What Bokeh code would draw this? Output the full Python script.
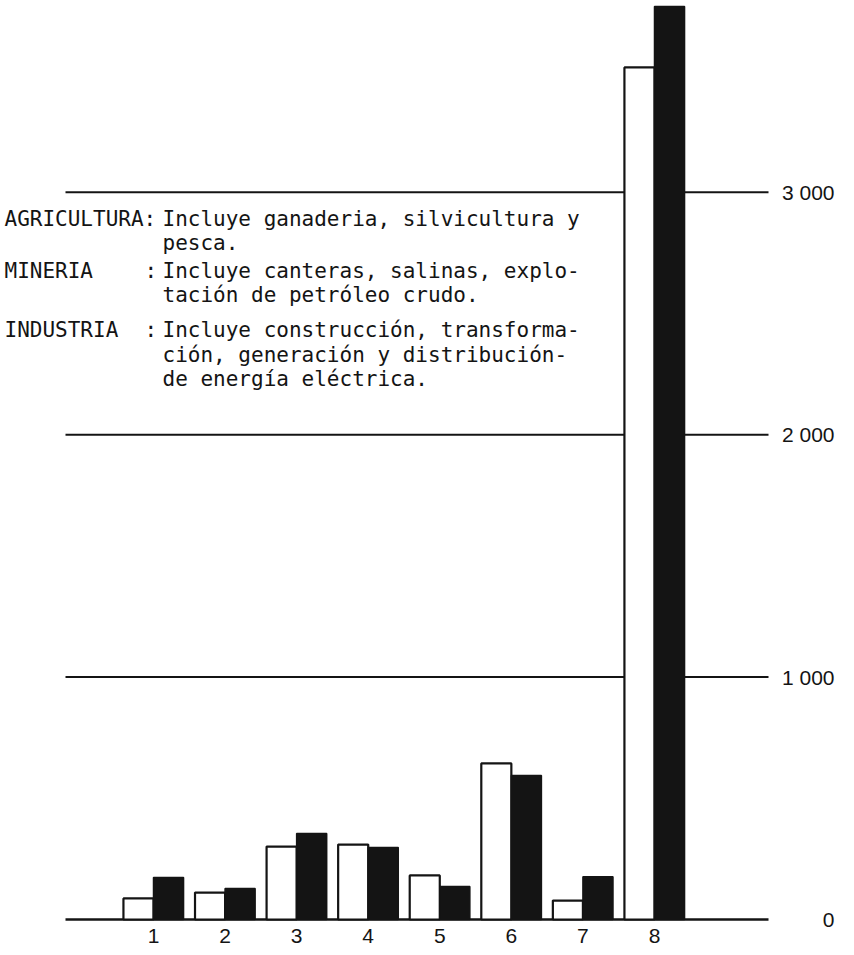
from bokeh.plotting import figure
from bokeh.models import Range1d, Label, ColumnDataSource
from bokeh.core.properties import value
from bokeh.embed import file_html
from bokeh.resources import INLINE

# ---------------- data ----------------
categories = ["1", "2", "3", "4", "5", "6", "7", "8"]
positions = [1, 2, 3, 4, 5, 6, 7, 8]
serie_blanca = [87, 111, 301, 309, 182, 644, 78, 3515]
serie_negra = [173, 128, 355, 297, 136, 594, 176, 3766]
grid_values = [0, 1000, 2000, 3000]
grid_labels = ["0", "1 000", "2 000", "3 000"]

nota_sectores = ["AGRICULTURA:", "MINERIA", "INDUSTRIA"]
nota_textos = [
    ["Incluye ganaderia, silvicultura y", "pesca."],
    ["Incluye canteras, salinas, explo-", "tación de petróleo crudo."],
    ["Incluye construcción, transforma-", "ción, generación y distribución-",
     "de energía eléctrica."],
]

# ---------------- layout ----------------
W, H = 838, 945
PX_UNIT = 71.57          # pixels between group centres
X0_PX = 153              # pixel of group 1 centre inside figure
PX_PER_VAL = 0.2424      # pixels per unit of value
BASE_PX = 919            # pixel row of zero (from top)

x_start = 1 - X0_PX / PX_UNIT
x_end = 1 + (W - X0_PX) / PX_UNIT
y_end = BASE_PX / PX_PER_VAL
y_start = -(H - BASE_PX) / PX_PER_VAL

def xu(px):
    return 1 + (px - X0_PX) / PX_UNIT

def yv(px):
    return (BASE_PX - px) / PX_PER_VAL

p = figure(width=W, height=H, output_backend="svg", toolbar_location=None,
           x_range=Range1d(x_start, x_end), y_range=Range1d(y_start, y_end),
           x_axis_type=None, y_axis_type=None, min_border=0)
p.outline_line_color = None
p.grid.visible = False
p.background_fill_color = "white"
p.border_fill_color = "white"

INK = "#141414"

# grid lines (drawn first, bars cover them)
grid_src = ColumnDataSource(dict(
    x0=[xu(65)] * len(grid_values),
    x1=[xu(768)] * len(grid_values),
    y=grid_values,
    w=[2.6, 2.0, 2.0, 2.0],
))
p.segment(x0="x0", x1="x1", y0="y", y1="y", source=grid_src,
          line_color=INK, line_width="w")

bw = 0.42
xs_w = [c - bw / 2 for c in positions]
xs_b = [c + bw / 2 for c in positions]
p.vbar(x=xs_w, width=bw, bottom=0, top=serie_blanca,
       fill_color="white", line_color=INK, line_width=2.2)
p.vbar(x=xs_b, width=bw, bottom=0, top=serie_negra,
       fill_color=INK, line_color=INK, line_width=1.5)

# category labels
p.text(x=positions, y=[yv(935)] * len(positions), text=categories,
       text_align="center", text_baseline="middle",
       text_font=value("Liberation Sans"), text_font_size="21px",
       text_color=INK)

# value labels on the right
p.text(x=[xu(834)] * len(grid_values), y=grid_values, text=grid_labels,
       text_align="right", text_baseline="middle",
       text_font=value("Liberation Sans"), text_font_size="21px",
       text_color=INK)

# notes block
line_rows = [[218, 242], [270, 294], [329, 354, 378]]
FONT = "DejaVu Sans Mono"
FS = "21px"
for i, sector in enumerate(nota_sectores):
    rows = line_rows[i]
    p.add_layout(Label(x=4, y=H - rows[0], x_units="screen", y_units="screen",
                       text=sector, text_font=FONT, text_font_size=FS,
                       text_baseline="middle", text_color=INK))
    if i > 0:
        p.add_layout(Label(x=144, y=H - rows[0], x_units="screen", y_units="screen",
                           text=":", text_font=FONT, text_font_size=FS,
                           text_baseline="middle", text_color=INK))
    for j, line in enumerate(nota_textos[i]):
        p.add_layout(Label(x=162, y=H - rows[j], x_units="screen", y_units="screen",
                           text=line, text_font=FONT, text_font_size=FS,
                           text_baseline="middle", text_color=INK))

open("out.html", "w").write(file_html(p, INLINE))
